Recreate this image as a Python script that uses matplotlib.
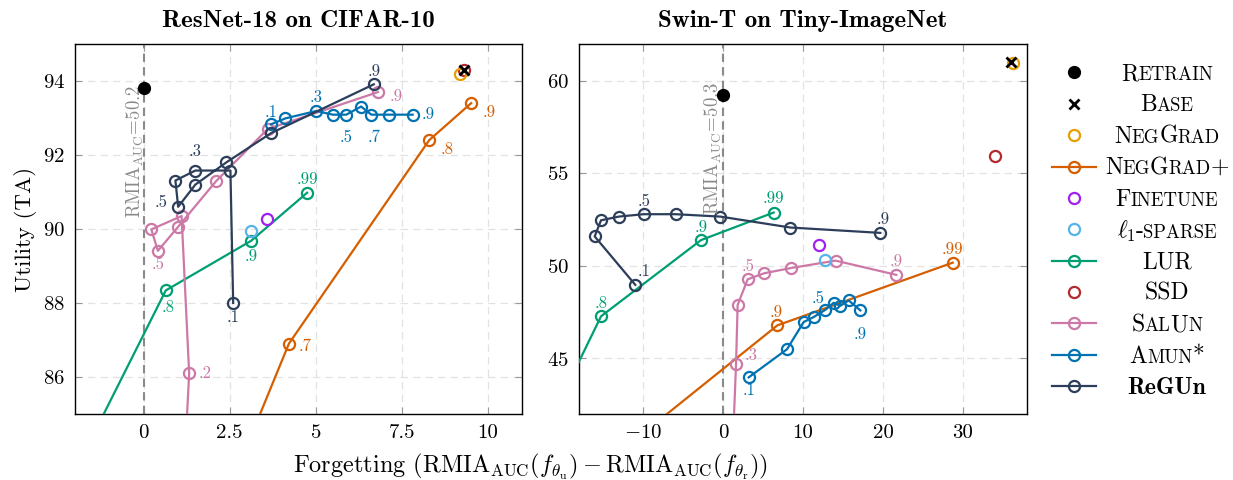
import matplotlib
matplotlib.use("Agg")
import matplotlib.pyplot as plt
from matplotlib.offsetbox import TextArea, HPacker, AnnotationBbox

plt.rcParams["font.family"] = "cmr10"
plt.rcParams["mathtext.fontset"] = "cm"
plt.rcParams["axes.formatter.use_mathtext"] = True
plt.rcParams["axes.unicode_minus"] = True

COLORS = {
    "neggrad": "#E69F00", "neggradp": "#D55E00", "finetune": "#A020F0",
    "l1": "#56B4E9", "lur": "#009E73", "ssd": "#B2292E",
    "salun": "#CC79A7", "amun": "#0072B2", "regun": "#2C3E5A",
}

# ---- ResNet-18 on CIFAR-10 ----
r18_retrain = (0.02, 93.8)
r18_base = (9.32, 94.3)
r18_neggrad = (9.2, 94.18)
r18_finetune = (3.59, 90.26)
r18_l1 = (3.12, 89.95)
r18_ssd = (9.32, 94.3)

r18_neggradp_x = [2.5, 4.22, 8.30, 9.52]
r18_neggradp_y = [83.0, 86.9, 92.40, 93.4]
r18_neggradp_lab = ["", ".7", ".8", ".9"]

r18_lur_x = [-2.3, 0.64, 3.12, 4.75]
r18_lur_y = [82.9, 88.34, 89.68, 90.98]
r18_lur_lab = ["", ".8", ".9", ".99"]

r18_salun_x = [1.15, 1.32, 1.10, 0.22, 0.41, 1.00, 2.10, 3.60, 6.81]
r18_salun_y = [83.0, 86.10, 90.35, 89.99, 89.41, 90.06, 91.29, 92.70, 93.70]
r18_salun_lab = ["", ".2", "", "", ".5", "", "", "", ".9"]

r18_amun_x = [3.70, 4.12, 5.02, 5.50, 5.89, 6.32, 6.62, 7.12, 7.82]
r18_amun_y = [92.83, 92.99, 93.19, 93.09, 93.09, 93.31, 93.09, 93.09, 93.09]
r18_amun_lab = [".1", "", ".3", "", ".5", "", ".7", "", ".9"]

r18_regun_x = [2.60, 2.52, 1.50, 0.92, 1.00, 1.50, 2.40, 3.70, 6.69]
r18_regun_y = [88.00, 91.58, 91.58, 91.31, 90.60, 91.20, 91.80, 92.59, 93.91]
r18_regun_lab = [".1", "", ".3", "", ".5", "", "", "", ".9"]

# ---- Swin-T on Tiny-ImageNet ----
swin_retrain = (0.0, 59.25)
swin_base = (36.04, 61.0)
swin_neggrad = (36.2, 60.99)
swin_finetune = (11.96, 51.15)
swin_l1 = (12.71, 50.32)
swin_ssd = (34.04, 55.93)

swin_neggradp_x = [-10.0, 6.79, 28.71]
swin_neggradp_y = [40.96, 46.79, 50.18]
swin_neggradp_lab = ["", ".9", ".99"]

swin_lur_x = [-19.5, -15.25, -2.75, 6.33]
swin_lur_y = [43.5, 47.28, 51.40, 52.89]
swin_lur_lab = ["", ".8", ".9", ".99"]

swin_salun_x = [1.0, 1.2, 1.63, 1.83, 3.08, 5.17, 8.50, 14.08, 21.67]
swin_salun_y = [37.0, 40.0, 44.70, 47.89, 49.28, 49.61, 49.89, 50.29, 49.52]
swin_salun_lab = ["", "", ".3", "", ".5", "", "", "", ".9"]

swin_amun_x = [3.21, 8.00, 10.08, 11.33, 12.79, 13.83, 14.67, 15.71, 17.17]
swin_amun_y = [43.98, 45.50, 46.97, 47.24, 47.63, 48.01, 47.85, 48.14, 47.60]
swin_amun_lab = [".1", "", "", "", ".5", "", "", "", ".9"]

swin_regun_x = [-10.96, -16.04, -15.25, -13.04, -9.92, -5.92, -0.33, 8.42, 19.67]
swin_regun_y = [48.98, 51.60, 52.47, 52.67, 52.80, 52.80, 52.67, 52.08, 51.79]
swin_regun_lab = [".1", "", "", "", ".5", "", "", "", ".9"]

# label offsets (points) for the lambda annotations
OFFS = {
    ("r18", "neggradp"): {".7": (12, -2), ".8": (13, -6.5), ".9": (13, -6.5)},
    ("r18", "lur"): {".8": (2, -12), ".9": (0, -11.5), ".99": (0, 10)},
    ("r18", "salun"): {".2": (11.5, 0), ".5": (0, -10), ".9": (13, -3)},
    ("r18", "amun"): {".1": (0, 8.5), ".3": (0, 9.5), ".5": (0, -16.5), ".7": (2, -16.5), ".9": (11.5, 0)},
    ("r18", "regun"): {".1": (0, -10), ".3": (0, 14), ".5": (-12, 3), ".9": (0, 9.5)},
    ("swin", "neggradp"): {".9": (-1, 9.5), ".99": (0, 9.5)},
    ("swin", "lur"): {".8": (0, 9.5), ".9": (0, 9.5), ".99": (0, 10)},
    ("swin", "salun"): {".3": (11, 6), ".5": (0, 9.5), ".9": (0, 9.5)},
    ("swin", "amun"): {".1": (0, -9.5), ".5": (-5, 8.5), ".9": (0, -17)},
    ("swin", "regun"): {".1": (6, 10), ".5": (0, 9.5), ".9": (2, 9.5)},
}

LINE_KW = dict(marker="o", mfc="none", ms=8, mew=1.6, lw=1.6)
PT_KW = dict(ls="none", marker="o", mfc="none", ms=8, mew=1.6)


def draw_panel(ax, tag, d, xlim, ylim, xticks, yticks, xticklabels, rmia_text, rmia_xy):
    ax.axvline(0, color="#8a8a8a", ls=(0, (4, 2.5)), lw=1.5, zorder=1)
    handles = {}
    handles["retrain"], = ax.plot(*[[v] for v in d["retrain"]], ls="none", marker="o",
                                  color="black", ms=8.5, zorder=6)
    for key in ["neggradp", "lur", "salun", "amun", "regun"]:
        xs, ys, labs = d[key]
        handles[key], = ax.plot(xs, ys, color=COLORS[key], zorder=3, **LINE_KW)
        for x, y, lab in zip(xs, ys, labs):
            if lab:
                ax.annotate(lab, (x, y), xytext=OFFS[(tag, key)][lab], textcoords="offset points",
                            ha="center", va="center", color=COLORS[key], fontsize=12)
    for key in ["finetune", "l1", "ssd", "neggrad"]:
        handles[key], = ax.plot(*[[v] for v in d[key]], color=COLORS[key], zorder=4, **PT_KW)
    handles["base"], = ax.plot(*[[v] for v in d["base"]], ls="none", marker="x",
                               color="black", ms=7, mew=2, zorder=7)
    ax.text(rmia_xy[0], rmia_xy[1], rmia_text, rotation=90, ha="center", va="center",
            color="#8a8a8a", fontsize=13.5)
    ax.set_xlim(*xlim)
    ax.set_ylim(*ylim)
    ax.set_xticks(xticks)
    ax.set_xticklabels(xticklabels)
    ax.set_yticks(yticks)
    ax.grid(True, color="#e2e2e2", ls=(0, (6, 4)), lw=0.9, zorder=0)
    ax.set_axisbelow(True)
    ax.tick_params(direction="in", length=5, color="#999999", labelsize=15,
                   top=True, right=True, pad=7)
    for s in ax.spines.values():
        s.set_linewidth(1.0)
    return handles


fig = plt.figure(figsize=(12.33, 4.8), dpi=100)
ax1 = fig.add_axes([75 / 1233, 66 / 480, 447 / 1233, 370 / 480])
ax2 = fig.add_axes([579 / 1233, 66 / 480, 448 / 1233, 370 / 480])

r18 = {
    "retrain": r18_retrain, "base": r18_base, "neggrad": r18_neggrad,
    "finetune": r18_finetune, "l1": r18_l1, "ssd": r18_ssd,
    "neggradp": (r18_neggradp_x, r18_neggradp_y, r18_neggradp_lab),
    "lur": (r18_lur_x, r18_lur_y, r18_lur_lab),
    "salun": (r18_salun_x, r18_salun_y, r18_salun_lab),
    "amun": (r18_amun_x, r18_amun_y, r18_amun_lab),
    "regun": (r18_regun_x, r18_regun_y, r18_regun_lab),
}
swin = {
    "retrain": swin_retrain, "base": swin_base, "neggrad": swin_neggrad,
    "finetune": swin_finetune, "l1": swin_l1, "ssd": swin_ssd,
    "neggradp": (swin_neggradp_x, swin_neggradp_y, swin_neggradp_lab),
    "lur": (swin_lur_x, swin_lur_y, swin_lur_lab),
    "salun": (swin_salun_x, swin_salun_y, swin_salun_lab),
    "amun": (swin_amun_x, swin_amun_y, swin_amun_lab),
    "regun": (swin_regun_x, swin_regun_y, swin_regun_lab),
}

h = draw_panel(ax1, "r18", r18, (-2, 11), (85, 95), [0, 2.5, 5, 7.5, 10], [86, 88, 90, 92, 94],
               ["0", "2.5", "5", "7.5", "10"],
               r"$\mathrm{RMIA}_{\mathrm{AUC}}\!=\!50.2$", (-0.24, 92.1))
draw_panel(ax2, "swin", swin, (-18, 38), (42, 62), [-10, 0, 10, 20, 30], [45, 50, 55, 60],
           [r"$-10$", "0", "10", "20", "30"],
           r"$\mathrm{RMIA}_{\mathrm{AUC}}\!=\!50.3$", (-1.2, 56.38))

ax1.set_title("ResNet-18 on CIFAR-10", fontfamily="cmb10", fontsize=18, pad=12)
ax2.set_title("Swin-T on Tiny-ImageNet", fontfamily="cmb10", fontsize=18, pad=12)
ax1.set_ylabel("Utility (TA)", fontsize=16.5, labelpad=4)
fig.text(530 / 1233, 13 / 480,
         r"Forgetting $(\mathrm{RMIA}_{\mathrm{AUC}}(f_{\theta_{\mathrm{u}}}) - \mathrm{RMIA}_{\mathrm{AUC}}(f_{\theta_{\mathrm{r}}}))$",
         ha="center", va="center", fontsize=17.5)

# legend: handles from the left panel, small-caps labels drawn on top
order = ["retrain", "base", "neggrad", "neggradp", "finetune", "l1", "lur", "ssd", "salun", "amun", "regun"]
plain = ["Retrain", "Base", "NegGrad", "NegGrad+", "Finetune", "l1-sparse", "LUR", "SSD", "SalUn", "Amun*", "ReGUn"]
BIG, SMALL = 17, 13.5
pieces = [
    [("R", BIG), ("ETRAIN", SMALL)],
    [("B", BIG), ("ASE", SMALL)],
    [("N", BIG), ("EG", SMALL), ("G", BIG), ("RAD", SMALL)],
    [("N", BIG), ("EG", SMALL), ("G", BIG), ("RAD", SMALL), ("+", BIG)],
    [("F", BIG), ("INETUNE", SMALL)],
    [(r"$\ell_1$", BIG), ("-", BIG), ("SPARSE", SMALL)],
    [("LUR", BIG)],
    [("SSD", BIG)],
    [("S", BIG), ("AL", SMALL), ("U", BIG), ("N", SMALL)],
    [("A", BIG), ("MUN", SMALL), ("*", BIG)],
    [("ReGUn", "bold")],
]
leg = fig.legend([h[k] for k in order], plain, loc="upper left",
                 bbox_to_anchor=(1052 / 1233, 1 - 66 / 480), frameon=False,
                 fontsize=13, handlelength=2.44, handletextpad=0.5,
                 labelspacing=0.87, borderpad=0, borderaxespad=0)
fig.canvas.draw()
for t, parts in zip(leg.get_texts(), pieces):
    bb = t.get_window_extent()
    yc = 0.5 * (bb.y0 + bb.y1)
    t.set_visible(False)
    kids = []
    for s, size in parts:
        if size == "bold":
            kids.append(TextArea(s, textprops=dict(fontsize=BIG, family="cmb10")))
        else:
            kids.append(TextArea(s, textprops=dict(fontsize=size, family="cmr10")))
    box = HPacker(children=kids, align="baseline", pad=0, sep=0)
    ab = AnnotationBbox(box, (1167, yc), xycoords="figure pixels", box_alignment=(0.5, 0.5),
                        frameon=False, pad=0)
    fig.add_artist(ab)

fig.savefig("out.png", dpi=100)
